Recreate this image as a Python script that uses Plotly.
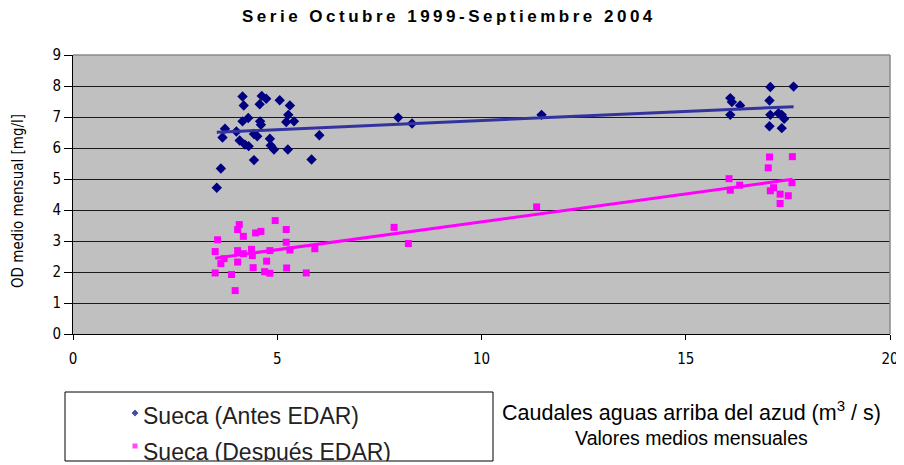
import numpy as np
import plotly.graph_objects as go

# ---- data ----
antes_x = [4.15, 4.18, 4.62, 4.73, 4.57, 5.06, 5.31, 4.29, 4.15, 4.58, 4.60, 5.27, 5.22, 5.41,
           3.72, 3.66, 4.00, 4.43, 4.51, 4.08, 4.21, 4.30, 4.82, 4.84, 4.92, 5.26, 6.03, 4.43,
           5.84, 3.62, 3.52, 7.96, 8.30, 11.47,
           17.07, 17.64, 16.09, 16.13, 16.33, 16.09, 17.05, 17.07, 17.27, 17.35, 17.41, 17.05, 17.35]
antes_y = [7.66, 7.37, 7.68, 7.59, 7.41, 7.54, 7.37, 6.97, 6.86, 6.86, 6.75, 7.07, 6.84, 6.86,
           6.62, 6.34, 6.53, 6.45, 6.38, 6.24, 6.11, 6.06, 6.30, 6.08, 5.95, 5.95, 6.41, 5.61,
           5.63, 5.34, 4.72, 6.98, 6.79, 7.07,
           7.97, 7.98, 7.61, 7.48, 7.37, 7.07, 7.53, 7.07, 7.12, 7.07, 6.94, 6.70, 6.64]

despues_x = [4.95, 4.07, 4.03, 4.17, 4.47, 4.60, 5.22, 3.54, 5.22, 3.48, 4.03, 4.37, 4.39, 4.82,
             5.31, 5.92, 3.70, 3.62, 4.03, 4.74, 4.17, 3.48, 3.88, 4.41, 4.69, 4.82, 5.23, 5.71,
             3.97, 11.35, 7.86, 8.21,
             17.05, 17.61, 17.02, 16.06, 16.09, 16.32, 17.15, 17.31, 17.51, 17.31, 17.07, 17.60]
despues_y = [3.66, 3.53, 3.37, 3.15, 3.26, 3.31, 3.37, 3.04, 2.96, 2.66, 2.69, 2.73, 2.53, 2.69,
             2.71, 2.75, 2.43, 2.27, 2.32, 2.35, 2.59, 1.97, 1.92, 2.14, 2.01, 1.96, 2.13, 1.97,
             1.40, 4.10, 3.44, 2.92,
             5.71, 5.72, 5.36, 5.01, 4.64, 4.80, 4.72, 4.51, 4.46, 4.21, 4.62, 4.88]

series_names = ["Sueca (Antes EDAR)", "Sueca (Después EDAR)"]
title_text = "Serie Octubre 1999-Septiembre 2004"
x_ticks = [0, 5, 10, 15, 20]
y_ticks = [0, 1, 2, 3, 4, 5, 6, 7, 8, 9]

NAVY = "#000080"
BLUE_LINE = "#3333A0"
PINK = "#FF00FF"
NARROW = "Liberation Sans Narrow, DejaVu Sans Condensed, Arial Narrow, sans-serif"
ARIAL = "Liberation Sans, Arial, sans-serif"

W, H = 904, 465
OFF = 8  # page offset of the figure inside the browser window
# plot area in window pixels
PL, PR, PT, PB = 73, 890, 55, 334
# legend box in window pixels
LL, LR, LT, LB = 65, 493, 392, 461
LEG_MX = 135                  # legend marker x (px)
LEG_TX = 143                  # legend text x (px)
LEG_MARK_ROWS = [413, 446]    # legend marker rows (px)
LEG_TEXT_ROWS = [418, 454]    # legend text rows (px)


def fx(xp):
    return (xp - OFF) / W


def fy(yp):
    return 1 - (yp - OFF) / H


def trend(xs, ys):
    xs = np.asarray(xs)
    ys = np.asarray(ys)
    m, b = np.polyfit(xs, ys, 1)
    xx = np.array([xs.min(), xs.max()])
    return xx, m * xx + b


fig = go.Figure()

fig.add_trace(go.Scatter(x=antes_x, y=antes_y, mode="markers", name=series_names[0],
                         marker=dict(symbol="diamond", size=8, color=NAVY), showlegend=False))
fig.add_trace(go.Scatter(x=despues_x, y=despues_y, mode="markers", name=series_names[1],
                         marker=dict(symbol="square", size=7, color=PINK), showlegend=False))

tx, ty = trend(antes_x, antes_y)
fig.add_trace(go.Scatter(x=tx, y=ty, mode="lines", line=dict(color=BLUE_LINE, width=3),
                         showlegend=False, hoverinfo="skip"))
tx, ty = trend(despues_x, despues_y)
fig.add_trace(go.Scatter(x=tx, y=ty, mode="lines", line=dict(color=PINK, width=3),
                         showlegend=False, hoverinfo="skip"))

# legend box drawn as a small subplot in pixel units (clips its contents like the original)
fig.add_trace(go.Scatter(x=[LEG_MX, LEG_MX], y=LEG_MARK_ROWS, mode="markers",
                         marker=dict(symbol=["diamond", "square"], size=[6, 6],
                                     color=[NAVY, PINK]),
                         xaxis="x2", yaxis="y2", showlegend=False, hoverinfo="skip",
                         cliponaxis=True))
fig.add_trace(go.Scatter(x=[LEG_TX, LEG_TX], y=LEG_TEXT_ROWS, mode="text",
                         text=series_names, textposition="middle right",
                         textfont=dict(family=ARIAL, size=23, color="#222222"),
                         xaxis="x2", yaxis="y2", showlegend=False, hoverinfo="skip",
                         cliponaxis=True))

fig.update_layout(
    width=W, height=H,
    margin=dict(l=0, r=0, t=0, b=0, autoexpand=False),
    paper_bgcolor="white",
    plot_bgcolor="#C0C0C0",
    showlegend=False,
    xaxis=dict(domain=[fx(PL), fx(PR)], range=[0, 20], tickvals=x_ticks, showgrid=False,
               automargin=False,
               zeroline=False, showline=True, linecolor="black", linewidth=1,
               ticks="outside", ticklen=5, tickcolor="black", ticklabelstandoff=6,
               tickfont=dict(family=NARROW, size=15, color="black")),
    yaxis=dict(domain=[fy(PB), fy(PT)], range=[0, 9], tickvals=y_ticks, showgrid=True,
               automargin=False,
               gridcolor="#1a1a1a", gridwidth=1, zeroline=False,
               showline=True, linecolor="black", linewidth=1,
               ticks="outside", ticklen=8, tickcolor="black",
               tickfont=dict(family=NARROW, size=15, color="black")),
    xaxis2=dict(domain=[fx(LL), fx(LR)], range=[LL, LR], visible=False, automargin=False,
                anchor="y2", fixedrange=True),
    yaxis2=dict(domain=[fy(LB), fy(LT)], range=[LB, LT], visible=False, automargin=False,
                anchor="x2", fixedrange=True),
    shapes=[dict(type="rect", xref="x2 domain", yref="y2 domain",
                 x0=0, x1=1, y0=0, y1=1, layer="below",
                 line=dict(color="black", width=1), fillcolor="white"),
            dict(type="line", xref="x domain", yref="y domain", x0=0, x1=1, y0=1, y1=1,
                 line=dict(color="#8a8a8a", width=1.5), layer="above"),
            dict(type="line", xref="x domain", yref="y domain", x0=1, x1=1, y0=0, y1=1,
                 line=dict(color="#8a8a8a", width=1.5), layer="above")],
    annotations=[
        dict(text="<b><span style='letter-spacing:3.5px'>" + title_text + "</span></b>",
             xref="paper", yref="paper",
             x=fx(449), y=fy(16), xanchor="center", yanchor="middle", showarrow=False,
             font=dict(family=ARIAL, size=17, color="black")),
        dict(text="OD medio mensual [mg/l]", xref="paper", yref="paper",
             x=fx(18), y=fy(201), xanchor="center", yanchor="middle", showarrow=False,
             textangle=-90, font=dict(family=NARROW, size=15, color="black")),
        dict(text="<span style='font-size:21.5px'>Caudales aguas arriba del azud (m<sup>3</sup> / s)</span>"
                  "<br>Valores medios mensuales",
             xref="paper", yref="paper", x=fx(691), y=fy(423), xanchor="center",
             yanchor="middle", showarrow=False, align="center",
             font=dict(family=ARIAL, size=19.5, color="black")),
    ],
)

fig.write_html("out.html")
